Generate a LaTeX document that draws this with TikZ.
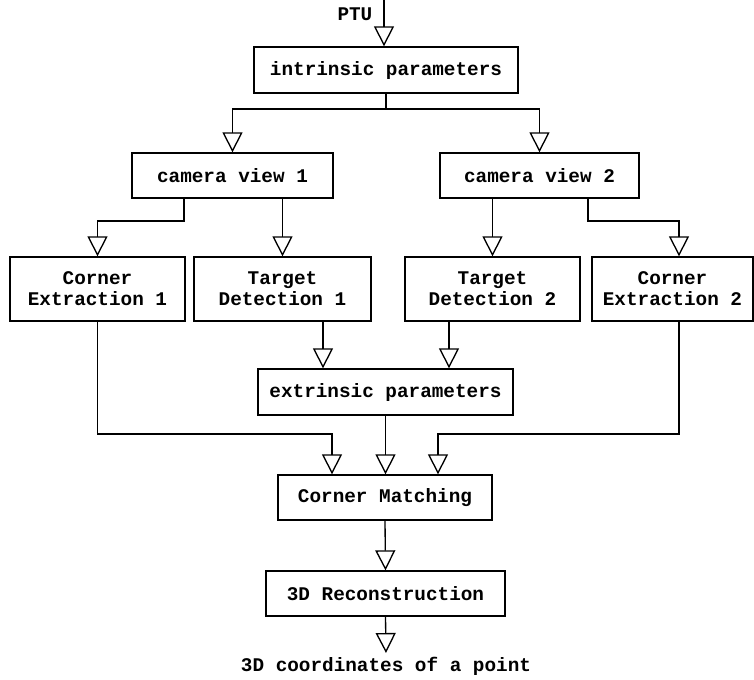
\documentclass[tikz,border=0pt]{standalone}
\usepackage{fontspec}
\setmonofont{Liberation Mono}
\usetikzlibrary{arrows.meta}
\begin{document}
\begin{tikzpicture}[x=0.75pt,y=0.75pt,yscale=-1,
  line width=1pt,
  box/.style={draw,align=center,inner sep=0pt,font=\ttfamily\bfseries\fontsize{14.5}{15.75}\selectfont},
  lbl/.style={inner sep=0pt,font=\ttfamily\bfseries\fontsize{14.5}{15.75}\selectfont},
  tri/.style={-{Triangle[open,length=15pt,width=15pt]}}]
\useasboundingbox (0,0) rectangle (754,679);
% boxes
\node[box,minimum width=198pt,minimum height=34.5pt] (intr) at (386,70) {intrinsic parameters};
\node[box,minimum width=150.75pt,minimum height=33.75pt] (cam1) at (232.5,175.5) {camera view 1};
\node[box,minimum width=149.25pt,minimum height=33.75pt] (cam2) at (539.5,175.5) {camera view 2};
\node[box,minimum width=131.25pt,minimum height=48pt] (ce1) at (97.5,289) {Corner\\Extraction 1};
\node[box,minimum width=132.75pt,minimum height=48pt] (td1) at (282.5,289) {Target\\Detection 1};
\node[box,minimum width=131.25pt,minimum height=48pt] (td2) at (492.5,289) {Target\\Detection 2};
\node[box,minimum width=120.75pt,minimum height=48pt] (ce2) at (672.5,289) {Corner\\Extraction 2};
\node[box,minimum width=191.25pt,minimum height=34.5pt] (ext) at (385.5,392) {extrinsic parameters};
\node[box,minimum width=160.5pt,minimum height=33.75pt] (cm) at (385,497.5) {Corner Matching};
\node[box,minimum width=179.25pt,minimum height=33.75pt] (rec) at (385.5,593.5) {3D Reconstruction};
% labels
\node[lbl,anchor=east] (ptulbl) at (373,14) {PTU};
\node[lbl,anchor=north,inner sep=2.5pt] (out) at (386,653) {3D coordinates of a point};
% bends
\coordinate (ptu) at (384,0);
\coordinate (s0) at (386,109);
\coordinate (s1) at (184,221);
\coordinate (s2) at (588,221);
\coordinate (e2) at (679,221);
\coordinate (a1) at (323,0);
\coordinate (a2) at (449,0);
\coordinate (m1) at (332,434);
\coordinate (m3) at (438,434);
% connectors
\draw[tri] (ptu) -- (ptu |- intr.north);
\draw[tri] (intr.south) -- (intr.south |- s0) -| (cam1.north);
\draw[tri] (intr.south) -- (intr.south |- s0) -| (cam2.north);
\draw[tri] (cam1.south -| s1) -- (s1) -| (ce1.north);
\draw[tri] (cam1.south -| td1.north) -- (td1.north);
\draw[tri] (cam2.south -| td2.north) -- (td2.north);
\draw[tri] (cam2.south -| s2) -- (s2) -- (e2) -- (e2 |- ce2.north);
\draw[tri] (td1.south -| a1) -- (a1 |- ext.north);
\draw[tri] (td2.south -| a2) -- (a2 |- ext.north);
\draw[tri] (ce1.south) |- (m1) -- (m1 |- cm.north);
\draw[tri] (ext.south) -- (ext.south |- cm.north);
\draw[tri] (ce2.south -| e2) |- (m3) -- (m3 |- cm.north);
\draw[tri] (cm.south) -- (rec.north);
\draw[tri] (rec.south) -- (out.north);
\end{tikzpicture}
\end{document}
